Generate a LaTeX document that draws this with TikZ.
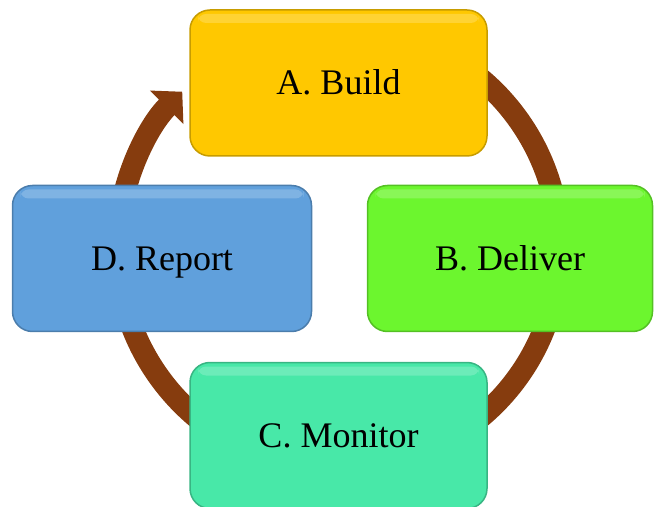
\documentclass[tikz,border=0pt]{standalone}
\usepackage{fontspec}
\setmainfont{Liberation Serif}
\usetikzlibrary{arrows.meta,positioning}
\definecolor{buildcol}{RGB}{255,200,0}
\definecolor{delivercol}{RGB}{108,246,46}
\definecolor{monitorcol}{RGB}{72,232,168}
\definecolor{reportcol}{RGB}{96,160,220}
\definecolor{ringcol}{RGB}{134,60,14}
\tikzset{
	%Define standard arrow tip
	>={Triangle[length=22pt,width=46pt]},
	%Define style for boxes
	tile/.style={
		rectangle,
		rounded corners=20pt,
		draw=#1!78!black, line width=1.5pt,
		fill=#1,
		minimum width=297pt,
		minimum height=146pt,
		text height=24pt, text depth=0pt,
		font=\fontsize{36pt}{40pt}\selectfont,
		path picture={
			\fill[white,opacity=0.2,rounded corners=8pt]
				([xshift=8pt,yshift=-4pt]path picture bounding box.north west) rectangle
				([xshift=-8pt,yshift=-13pt]path picture bounding box.north east);}},
	% Define arrow style
	ring/.style={
		->,
		line width=22pt,
		draw=ringcol}
}
\begin{document}
\begin{tikzpicture}[x=1pt,y=1pt]
	\clip (0,0) rectangle (655,506);
	
	\coordinate (hub) at (338.5,258);
	
	% the loop behind the boxes
	\draw[ring] ([shift={(80:221pt)}]hub) arc[start angle=80, end angle=-225, radius=221pt];
	
	\node[tile=buildcol] (build) at (338.5,423) {A. Build};
	\node[tile=delivercol,minimum width=285pt] (deliver) at (510,247.5) {B. Deliver};
	\node[tile=monitorcol] (monitor) at (338.5,70.5) {C. Monitor};
	\node[tile=reportcol,minimum width=299pt] (report) at (162,247.5) {D. Report};
	
\end{tikzpicture}
\end{document}
